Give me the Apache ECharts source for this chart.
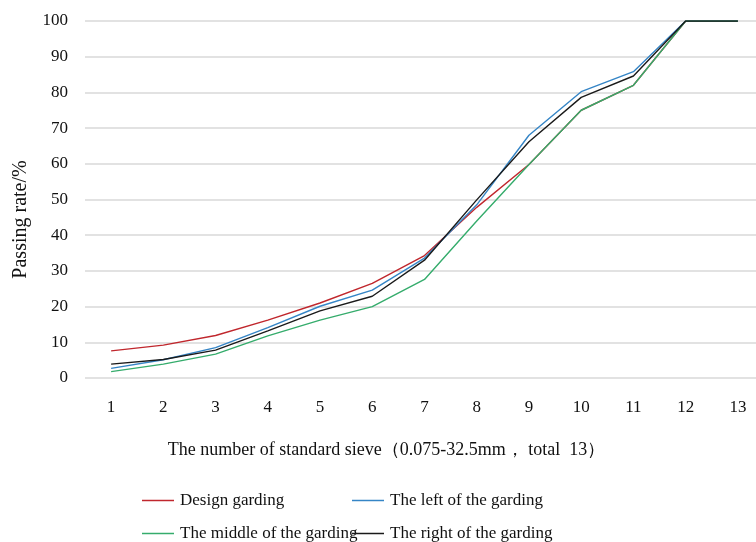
<!DOCTYPE html>
<html><head><meta charset="utf-8">
<script src="https://cdn.jsdelivr.net/npm/echarts@6/dist/echarts.min.js"></script>
<style>html,body{margin:0;padding:0;background:#fff}#c{width:756px;height:542px}</style>
</head><body><div id="c"></div>
<script>
const categories = ['1','2','3','4','5','6','7','8','9','10','11','12','13'];
const designGrading = [7.6, 9.2, 11.9, 16.2, 21, 26.5, 34.3, 47.8, 59.8, 75, 82, 100, 100];
const leftGrading   = [2.7, 5.1, 8.5, 14.1, 20.1, 24.6, 33.6, 48.5, 68, 80.2, 85.8, 100, 100];
const middleGrading = [1.8, 3.9, 6.7, 11.8, 16.2, 20, 27.6, 44, 59.8, 75, 82, 100, 100];
const rightGrading  = [3.9, 5.2, 7.8, 13.2, 18.8, 22.9, 33, 49.9, 66.2, 78.6, 84.6, 100, 100];
const names = ['Design garding','The left of the garding','The middle of the garding','The right of the garding'];
const colors = ['#c0272d','#3585c6','#35ac6c','#1a1a1a'];
const FONT = '"Liberation Serif", "Times New Roman", serif';
const chart = echarts.init(document.getElementById('c'));
const legendBase = {icon:'rect', itemWidth:32, itemHeight:1.5, itemGap:4, textStyle:{fontFamily:FONT, fontSize:17, color:'#111', padding:[0,0,0,1]}};
chart.setOption({
  animation:false,
  color: colors,
  grid:{left:85, width:679, top:21, bottom:164, outerBoundsMode:'none'},
  legend:[
    Object.assign({data:[names[0]], left:137, top:487}, legendBase),
    Object.assign({data:[names[1]], left:347, top:487}, legendBase),
    Object.assign({data:[names[2]], left:137, top:520}, legendBase),
    Object.assign({data:[names[3]], left:347, top:520}, legendBase)
  ],
  xAxis:{type:'category', data:categories, boundaryGap:true,
    axisLine:{show:false}, axisTick:{show:false},
    axisLabel:{fontFamily:FONT, fontSize:17, color:'#111', margin:21},
    name:'The number of standard sieve（0.075-32.5mm， total  13）',
    nameLocation:'middle', nameGap:63,
    nameTextStyle:{fontFamily:FONT, fontSize:18, color:'#111', padding:[0,76,0,0]}},
  yAxis:{type:'value', min:0, max:100, interval:10,
    axisLine:{show:false}, axisTick:{show:false},
    splitLine:{lineStyle:{color:'#d9d9d9', width:1.5}},
    axisLabel:{fontFamily:FONT, fontSize:17, color:'#111', margin:17},
    name:'Passing rate/%', nameLocation:'middle', nameGap:54, nameRotate:90,
    nameTextStyle:{fontFamily:FONT, fontSize:20, color:'#111', padding:[0,40,0,0]}},
  series:[
    {name:names[0], type:'line', data:designGrading},
    {name:names[1], type:'line', data:leftGrading},
    {name:names[2], type:'line', data:middleGrading},
    {name:names[3], type:'line', data:rightGrading}
  ].map(s=>Object.assign(s,{symbol:'none', lineStyle:{width:1.4}}))
});
</script></body></html>
